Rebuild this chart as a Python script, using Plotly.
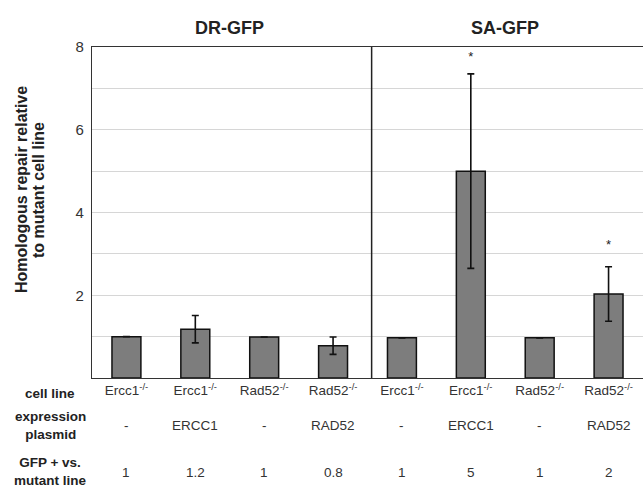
import plotly.graph_objects as go

cell_lines = ["Ercc1<sup>-/-</sup>", "Ercc1<sup>-/-</sup>", "Rad52<sup>-/-</sup>", "Rad52<sup>-/-</sup>",
              "Ercc1<sup>-/-</sup>", "Ercc1<sup>-/-</sup>", "Rad52<sup>-/-</sup>", "Rad52<sup>-/-</sup>"]
plasmids = ["-", "ERCC1", "-", "RAD52", "-", "ERCC1", "-", "RAD52"]
fold_text = ["1", "1.2", "1", "0.8", "1", "5", "1", "2"]
values = [1.0, 1.18, 0.99, 0.78, 0.97, 5.0, 0.97, 2.03]
errors = [0, 0.33, 0, 0.21, 0, 2.35, 0, 0.66]
star_y = [None, None, None, None, None, 7.75, None, 3.2]
groups = ["DR-GFP", "SA-GFP"]
group_centers = [1.5, 5.5]
y_title_lines = ["Homologous repair relative", "to mutant cell line"]
row_headers = ["cell line", "expression<br>plasmid", "GFP + vs.<br>mutant line"]
y_ticks = [2, 4, 6, 8]

xpos = list(range(len(values)))
FONT = "Liberation Sans, Arial, sans-serif"
W, H = 643, 488
ML, MT, MB = 92, 47, 110
PW = W - ML
PH = H - MT - MB


def px(xpix):
    return (xpix - ML) / PW


def py(ypix):
    return (H - MB - ypix) / PH


fig = go.Figure()
fig.add_trace(go.Bar(
    x=xpos, y=values, width=0.42,
    marker=dict(color="#7d7d7d", line=dict(color="#111111", width=1.5)),
    error_y=dict(type="data", array=errors, visible=True, color="#111111",
                 thickness=1.6, width=3.5),
    showlegend=False, hoverinfo="skip",
))
sx = [x for x, s in zip(xpos, star_y) if s is not None]
sy = [s for s in star_y if s is not None]
fig.add_trace(go.Scatter(
    x=sx, y=sy, mode="text", text=["*"] * len(sx),
    textfont=dict(family=FONT, size=13, color="#222222"),
    showlegend=False, hoverinfo="skip",
))

fig.update_layout(
    width=W, height=H,
    margin=dict(l=ML, r=0, t=MT, b=MB),
    paper_bgcolor="white", plot_bgcolor="white",
    font=dict(family=FONT, color="#222222"),
)
fig.update_xaxes(
    range=[-0.5, 7.5], tickvals=xpos, ticktext=cell_lines,
    tickfont=dict(size=13.5, color="#333333"), ticks="",
    showline=True, linecolor="#333333", linewidth=1.2, mirror=True,
    showgrid=False, zeroline=False,
)
fig.update_yaxes(
    range=[0, 8], tickvals=y_ticks, tickfont=dict(size=15, color="#333333"),
    ticks="outside", ticklen=4, tickcolor="rgba(0,0,0,0)",
    showline=True, linecolor="#333333", linewidth=1.2,
    showgrid=True, gridcolor="#d6d6d6", gridwidth=1,
    minor=dict(dtick=1, showgrid=True, gridcolor="#d6d6d6", gridwidth=1),
    zeroline=False,
)

# divider between the two reporter groups
fig.add_shape(type="line", xref="x", yref="y", x0=3.56, x1=3.56, y0=0, y1=8,
              line=dict(color="#222222", width=1.5))

for g, c in zip(groups, group_centers):
    fig.add_annotation(x=c, y=py(28), xref="x", yref="paper", text="<b>%s</b>" % g,
                       showarrow=False, font=dict(size=18, color="#222222"),
                       yanchor="middle")

# y-axis title, two tightly spaced lines
for line, xc in zip(y_title_lines, [22, 39]):
    fig.add_annotation(x=px(xc), y=py(190), xref="paper", yref="paper",
                       text="<b>%s</b>" % line, textangle=-90, showarrow=False,
                       font=dict(size=16, color="#222222"),
                       xanchor="center", yanchor="middle")

# table row headers
header_ys = [393, 425, 471]
for h, yy in zip(row_headers, header_ys):
    fig.add_annotation(x=px(50), y=py(yy), xref="paper", yref="paper",
                       text="<b>%s</b>" % h, showarrow=False,
                       font=dict(size=13.5, color="#222222"),
                       xanchor="center", yanchor="middle")

for x, p, f in zip(xpos, plasmids, fold_text):
    fig.add_annotation(x=x, y=py(425), xref="x", yref="paper", text=p,
                       showarrow=False, font=dict(size=13.5, color="#333333"),
                       yanchor="middle")
    fig.add_annotation(x=x, y=py(472), xref="x", yref="paper", text=f,
                       showarrow=False, font=dict(size=13.5, color="#333333"),
                       yanchor="middle")

fig.write_html("out.html",
               config={"displayModeBar": False},
               post_script="document.body.style.margin='0';document.body.style.overflow='hidden';")
